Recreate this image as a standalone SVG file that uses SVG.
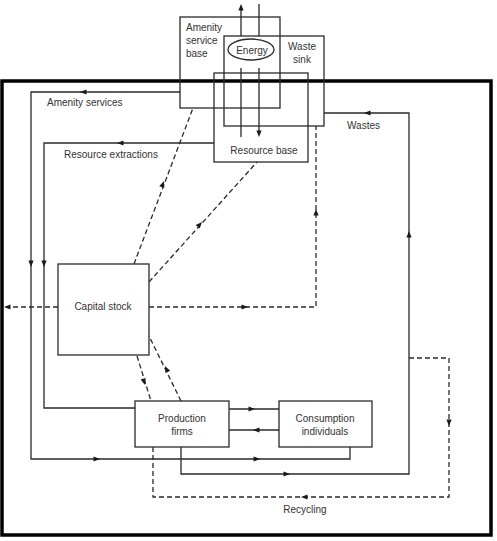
<svg xmlns="http://www.w3.org/2000/svg" xmlns:xlink="http://www.w3.org/1999/xlink" width="497" height="541" viewBox="0 0 497 541">
<style>
.box{fill:none;stroke:#2a2a2a;stroke-width:1.3}
.ln{fill:none;stroke:#2a2a2a;stroke-width:1.3}
.dash{fill:none;stroke:#2a2a2a;stroke-width:1.3;stroke-dasharray:5,3}
.border{fill:none;stroke:#000;stroke-width:3.5}
text{font-family:"Liberation Sans",Arial,sans-serif;font-size:10px;fill:#333}
.c{text-anchor:middle}
.ah{fill:#1a1a1a}
</style>
<defs>
<path id="ah" d="M0,0 L-6.5,-2.6 L-6.5,2.6 Z"/>
</defs>
<rect width="497" height="541" fill="#fff"/>

<g id="outer-boundary">
<rect class="border" x="2" y="81" width="489" height="454"/>
</g>

<g id="amenity-service-base">
<rect class="box" x="180" y="17" width="100" height="91"/>
<text x="186" y="31">Amenity</text>
<text x="186" y="44">service</text>
<text x="186" y="57">base</text>
</g>

<g id="waste-sink">
<rect class="box" x="224" y="36" width="100" height="90"/>
<text class="c" x="302" y="49.5">Waste</text>
<text class="c" x="302" y="62.5">sink</text>
</g>

<g id="resource-base">
<rect class="box" x="214" y="73" width="94" height="89"/>
<text class="c" x="264" y="154">Resource base</text>
</g>

<g id="energy">
<ellipse cx="251" cy="49.5" rx="23" ry="10.5" fill="#fff" stroke="#2a2a2a" stroke-width="1.3"/>
<text class="c" x="252" y="53.5">Energy</text>
</g>

<g id="capital-stock">
<rect class="box" x="58" y="264" width="91" height="91"/>
<text class="c" x="103" y="310">Capital stock</text>
</g>

<g id="production">
<rect class="box" x="135" y="401" width="94" height="46"/>
<text class="c" x="182" y="422">Production</text>
<text class="c" x="182" y="435">firms</text>
</g>

<g id="consumption">
<rect class="box" x="279" y="401" width="93" height="46"/>
<text class="c" x="325" y="422">Consumption</text>
<text class="c" x="325" y="435">individuals</text>
</g>

<g id="connectors">
<!-- energy lines -->
<path class="ln" d="M241,6 V36 M241,68 V137"/>
<path class="ln" d="M259,4 V36 M259,68 V132"/>
<use xlink:href="#ah" class="ah" transform="translate(241,4) rotate(-90)"/>
<use xlink:href="#ah" class="ah" transform="translate(259,137) rotate(90)"/>

<!-- amenity services -->
<path class="ln" d="M180,92 H31 V459 H350 V447"/>
<use xlink:href="#ah" class="ah" transform="translate(80,92) rotate(180)"/>
<use xlink:href="#ah" class="ah" transform="translate(31,267) rotate(90)"/>
<use xlink:href="#ah" class="ah" transform="translate(100,459)"/>
<use xlink:href="#ah" class="ah" transform="translate(260,459)"/>
<text x="47" y="106">Amenity services</text>

<!-- resource extractions -->
<path class="ln" d="M214,143 H44 V408 H135"/>
<use xlink:href="#ah" class="ah" transform="translate(117,143) rotate(180)"/>
<use xlink:href="#ah" class="ah" transform="translate(44,267) rotate(90)"/>
<text x="64" y="158">Resource extractions</text>

<!-- wastes -->
<path class="ln" d="M324,113 H409 V474 H181 V447"/>
<use xlink:href="#ah" class="ah" transform="translate(364,113) rotate(180)"/>
<use xlink:href="#ah" class="ah" transform="translate(409,231) rotate(-90)"/>
<use xlink:href="#ah" class="ah" transform="translate(290,474)"/>
<text x="347" y="129">Wastes</text>

<!-- production / consumption -->
<path class="ln" d="M229,409 H279"/>
<path class="ln" d="M279,430 H229"/>
<use xlink:href="#ah" class="ah" transform="translate(255,409)"/>
<use xlink:href="#ah" class="ah" transform="translate(253,430) rotate(180)"/>

<!-- dashed: capital stock to amenity base -->
<path class="dash" d="M134,264 L193,108"/>
<use xlink:href="#ah" class="ah" transform="translate(164,181) rotate(-69.3)"/>

<!-- dashed: capital stock to resource base -->
<path class="dash" d="M149,282 L257,162"/>
<use xlink:href="#ah" class="ah" transform="translate(202,222) rotate(-48.3)"/>

<!-- dashed: capital stock horizontal -->
<path class="dash" d="M58,307 H6"/>
<use xlink:href="#ah" class="ah" transform="translate(4,307) rotate(180)"/>
<path class="dash" d="M149,307 H316 V126"/>
<use xlink:href="#ah" class="ah" transform="translate(248,307)"/>
<use xlink:href="#ah" class="ah" transform="translate(316,209) rotate(-90)"/>

<!-- dashed: capital stock <-> production -->
<path class="dash" d="M137,356 L151,401"/>
<use xlink:href="#ah" class="ah" transform="translate(145,385) rotate(72.7)"/>
<path class="dash" d="M181,401 L149,336"/>
<use xlink:href="#ah" class="ah" transform="translate(165,366) rotate(-116.2)"/>

<!-- recycling -->
<path class="dash" d="M409,358 H449 V497 H153 V447"/>
<use xlink:href="#ah" class="ah" transform="translate(449,426) rotate(90)"/>
<use xlink:href="#ah" class="ah" transform="translate(301,497) rotate(180)"/>
<text class="c" x="305" y="513">Recycling</text>
</g>
</svg>
